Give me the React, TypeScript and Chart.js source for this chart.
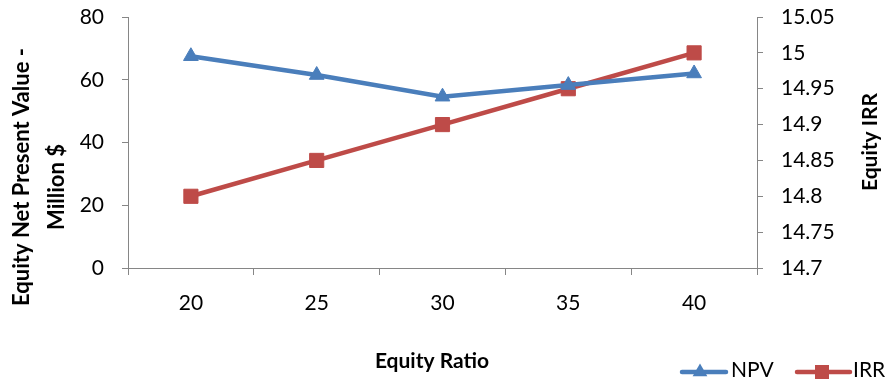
import React, { useEffect, useRef } from 'react';
import { Chart, registerables } from 'chart.js';

Chart.register(...registerables);

const categories = ['20', '25', '30', '35', '40'];
const npvValues = [67.5, 61.5, 54.6, 58.3, 62];
const irrValues = [14.8, 14.85, 14.9, 14.95, 15.0];
const npvTicks = [0, 20, 40, 60, 80];
const irrTicks = [14.7, 14.75, 14.8, 14.85, 14.9, 14.95, 15.0, 15.05];
const irrTickLabels = ['14.7', '14.75', '14.8', '14.85', '14.9', '14.95', '15', '15.05'];
const seriesNames = ['NPV', 'IRR'];
const xTitle = 'Equity Ratio';
const leftTitle = ['Equity Net Present Value -', 'Million $'];
const rightTitle = 'Equity IRR';

const FONT = 'Lato, "Open Sans", sans-serif';
const BLUE = '#4A7EBB';
const RED = '#BE4B48';
const AXIS = '#868686';

const textPlugin = {
  id: 'customText',
  afterDraw(chart: any) {
    const ctx = chart.ctx as CanvasRenderingContext2D;
    ctx.save();
    ctx.fillStyle = '#000';
    ctx.textAlign = 'center';
    ctx.textBaseline = 'middle';
    ctx.font = `bold 21px ${FONT}`;
    // x axis title
    ctx.fillText(xTitle, 432, 361);
    // right title
    ctx.save();
    ctx.translate(870, 142);
    ctx.rotate(-Math.PI / 2);
    ctx.fillText(rightTitle, 0, 0);
    ctx.restore();
    // left title
    ctx.font = `bold 22px ${FONT}`;
    ctx.save();
    ctx.translate(22, 177);
    ctx.rotate(-Math.PI / 2);
    ctx.fillText(leftTitle[0], 0, 0);
    ctx.fillText(leftTitle[1], -10, 35);
    ctx.restore();

    // legend
    const items = [
      { x0: 682, x1: 726, mx: 700, tx: 731, ds: 0 },
      { x0: 797, x1: 850, mx: 822, tx: 853, ds: 1 },
    ];
    const ly = 372;
    items.forEach((it) => {
      const ds = chart.data.datasets[it.ds];
      ctx.strokeStyle = ds.borderColor;
      ctx.fillStyle = ds.backgroundColor;
      ctx.lineWidth = 4.5;
      ctx.lineCap = 'round';
      ctx.beginPath();
      ctx.moveTo(it.x0, ly);
      ctx.lineTo(it.x1, ly);
      ctx.stroke();
      ctx.beginPath();
      if (ds.pointStyle === 'triangle') {
        const r = 8.5;
        ctx.moveTo(it.mx, ly - r);
        ctx.lineTo(it.mx + r * Math.sin((2 * Math.PI) / 3), ly - r * Math.cos((2 * Math.PI) / 3));
        ctx.lineTo(it.mx + r * Math.sin((4 * Math.PI) / 3), ly - r * Math.cos((4 * Math.PI) / 3));
        ctx.closePath();
      } else {
        ctx.rect(it.mx - 7, ly - 7, 14, 14);
      }
      ctx.fill();
      ctx.fillStyle = '#000';
      ctx.font = `21px ${FONT}`;
      ctx.textAlign = 'left';
      ctx.fillText(ds.label, it.tx, 370);
    });
    ctx.restore();
  },
};

export default function App() {
  const ref = useRef<HTMLCanvasElement>(null);
  useEffect(() => {
    document.body.style.margin = '0';
    if (!ref.current) return;
    const tickFont = { family: FONT, size: 21 };
    const chart = new Chart(ref.current, {
      type: 'line',
      data: {
        labels: categories,
        datasets: [
          {
            label: seriesNames[0],
            data: npvValues,
            yAxisID: 'y',
            borderColor: BLUE,
            backgroundColor: BLUE,
            borderWidth: 4.5,
            pointStyle: 'triangle',
            pointRadius: 8.5,
            pointBorderWidth: 1,
            tension: 0,
          },
          {
            label: seriesNames[1],
            data: irrValues,
            yAxisID: 'y1',
            borderColor: RED,
            backgroundColor: RED,
            borderWidth: 4.5,
            pointStyle: 'rect',
            pointRadius: 10,
            pointBorderWidth: 1,
            tension: 0,
          },
        ],
      },
      options: {
        animation: false,
        responsive: false,
        devicePixelRatio: 1,
        layout: { padding: { top: 17, left: 0, right: 0, bottom: 0 } },
        plugins: { legend: { display: false }, tooltip: { enabled: false } },
        scales: {
          x: {
            type: 'category',
            offset: true,
            grid: {
              display: true,
              drawOnChartArea: false,
              drawTicks: true,
              tickLength: 7,
              color: AXIS,
              offset: true,
            },
            border: { color: AXIS, width: 1 },
            ticks: { font: tickFont, color: '#000', padding: 16, maxRotation: 0, autoSkip: false },
            afterFit: (s: any) => {
              s.height = 119;
              s.paddingLeft = 0;
              s.paddingRight = 0;
            },
          },
          y: {
            position: 'left',
            min: 0,
            max: 80,
            afterBuildTicks: (s: any) => {
              s.ticks = npvTicks.map((v) => ({ value: v }));
            },
            grid: { drawOnChartArea: false, drawTicks: true, tickLength: 6, color: AXIS },
            border: { color: AXIS, width: 1 },
            ticks: { font: tickFont, color: '#000', padding: 18 },
            afterFit: (s: any) => {
              s.width = 128;
              s.paddingTop = 0;
              s.paddingBottom = 0;
            },
          },
          y1: {
            position: 'right',
            min: 14.7,
            max: 15.05,
            afterBuildTicks: (s: any) => {
              s.ticks = irrTicks.map((v) => ({ value: v }));
            },
            grid: { drawOnChartArea: false, drawTicks: true, tickLength: 6, color: AXIS },
            border: { color: AXIS, width: 1 },
            ticks: {
              font: tickFont,
              color: '#000',
              padding: 18,
              callback: (_v: any, i: number) => irrTickLabels[i],
            },
            afterFit: (s: any) => {
              s.width = 136;
              s.paddingTop = 0;
              s.paddingBottom = 0;
            },
          },
        },
      },
      plugins: [textPlugin],
    });
    return () => chart.destroy();
  }, []);
  return (
    <div style={{ position: 'absolute', left: 0, top: 0, width: 893, height: 387 }}>
      <canvas ref={ref} width={893} height={387} />
    </div>
  );
}
